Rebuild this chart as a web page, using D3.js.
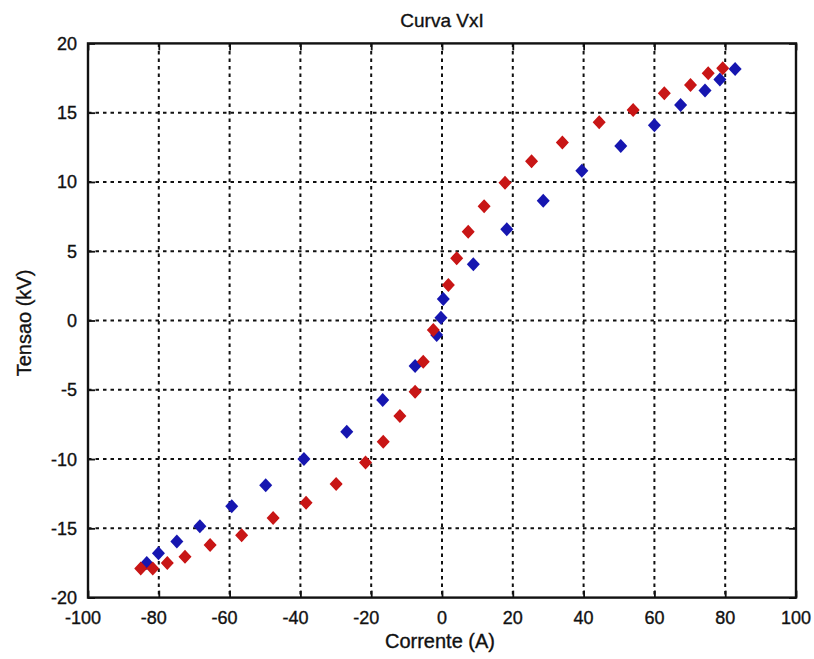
<!DOCTYPE html>
<html>
<head>
<meta charset="utf-8">
<script src="https://cdn.jsdelivr.net/npm/d3@7"></script>
<style>
  html, body { margin: 0; padding: 0; background: #fff; }
  svg { display: block; }
  text { font-family: Arial, "Liberation Sans", Helvetica, sans-serif; fill: #111; stroke: #111; stroke-width: 0.35px; }
</style>
</head>
<body>
<svg id="chart" width="814" height="659"></svg>
<script>
// Current (A) and voltage (kV) readings, two measurement runs
const currentRed = [-85.1, -81.7, -77.6, -72.6, -65.5, -56.6, -47.7, -38.4, -29.9, -21.6, -16.6, -11.9, -7.6, -5.3, -2.45, 1.8, 4.15, 7.4, 11.9, 17.8, 25.3, 34.0, 44.4, 54.0, 62.8, 70.2, 75.2, 79.3];
const voltageRed = [-17.9, -17.9, -17.5, -17.05, -16.2, -15.5, -14.25, -13.15, -11.8, -10.25, -8.75, -6.9, -5.14, -2.97, -0.69, 2.56, 4.49, 6.4, 8.25, 9.95, 11.5, 12.85, 14.3, 15.2, 16.4, 17.0, 17.85, 18.2];

const currentBlue = [-83.4, -80.1, -74.9, -68.4, -59.4, -49.8, -39.0, -26.9, -16.75, -7.6, -1.5, -0.3, 0.37, 8.85, 18.3, 28.6, 39.5, 50.5, 60.0, 67.4, 74.3, 78.5, 82.8];
const voltageBlue = [-17.5, -16.8, -15.95, -14.85, -13.4, -11.9, -10.0, -8.03, -5.74, -3.28, -1.05, 0.2, 1.55, 4.06, 6.58, 8.65, 10.8, 12.6, 14.1, 15.56, 16.6, 17.4, 18.16];

const xTicks = [-100, -80, -60, -40, -20, 0, 20, 40, 60, 80, 100];
const yTicks = [-20, -15, -10, -5, 0, 5, 10, 15, 20];

const titleText = "Curva VxI";
const xLabel = "Corrente (A)";
const yLabel = "Tensao (kV)";

const svg = d3.select("#chart");
const plotLeft = 88, plotRight = 796, plotTop = 43.4, plotBottom = 597.6;

const x = d3.scaleLinear().domain([-100, 100]).range([plotLeft, plotRight]);
const y = d3.scaleLinear().domain([-20, 20]).range([plotBottom, plotTop]);

// dotted grid
const grid = svg.append("g").attr("stroke", "#111").attr("stroke-width", 2)
  .attr("stroke-dasharray", "3.5,4");
grid.selectAll("line.v").data(xTicks.slice(1, -1)).join("line")
  .attr("x1", d => x(d)).attr("x2", d => x(d)).attr("y1", plotTop).attr("y2", plotBottom);
grid.selectAll("line.h").data(yTicks.slice(1, -1)).join("line")
  .attr("y1", d => y(d)).attr("y2", d => y(d)).attr("x1", plotLeft).attr("x2", plotRight);

// axes with inward ticks on all four sides
const tickLen = 7;
const axisStyle = g => {
  g.select(".domain").remove();
  g.selectAll(".tick line").attr("stroke", "#111").attr("stroke-width", 1.8);
};
svg.append("g").attr("transform", `translate(0,${plotBottom})`)
  .call(d3.axisBottom(x).tickValues(xTicks).tickSize(-tickLen).tickFormat(""))
  .call(axisStyle);
svg.append("g").attr("transform", `translate(0,${plotTop})`)
  .call(d3.axisTop(x).tickValues(xTicks).tickSize(-tickLen).tickFormat(""))
  .call(axisStyle);
svg.append("g").attr("transform", `translate(${plotLeft},0)`)
  .call(d3.axisLeft(y).tickValues(yTicks).tickSize(-tickLen).tickFormat(""))
  .call(axisStyle);
svg.append("g").attr("transform", `translate(${plotRight},0)`)
  .call(d3.axisRight(y).tickValues(yTicks).tickSize(-tickLen).tickFormat(""))
  .call(axisStyle);

// frame
svg.append("rect").attr("x", plotLeft).attr("y", plotTop)
  .attr("width", plotRight - plotLeft).attr("height", plotBottom - plotTop)
  .attr("fill", "none").attr("stroke", "#111").attr("stroke-width", 2.4);

// tick labels
svg.append("g").selectAll("text").data(xTicks).join("text")
  .attr("x", d => x(d) + (d < 0 ? -5 : 0)).attr("y", 624)
  .attr("text-anchor", "middle").attr("font-size", 18)
  .text(d => d);
svg.append("g").selectAll("text").data(yTicks).join("text")
  .attr("x", 77).attr("y", d => y(d)).attr("dy", "0.36em")
  .attr("text-anchor", "end").attr("font-size", 18)
  .text(d => d);

// titles
svg.append("text").attr("x", (plotLeft + plotRight) / 2).attr("y", 27)
  .attr("text-anchor", "middle").attr("font-size", 19).text(titleText);
svg.append("text").attr("x", 440).attr("y", 648)
  .attr("text-anchor", "middle").attr("font-size", 20).text(xLabel);
svg.append("text").attr("transform", "translate(31,323) rotate(-90)")
  .attr("text-anchor", "middle").attr("font-size", 20).text(yLabel);

// diamond markers
const diamond = (hw, hh) => `M0,${-hh}L${hw},0L0,${hh}L${-hw},0Z`;
const defs = svg.append("defs");
defs.append("filter").attr("id", "soft")
  .append("feGaussianBlur").attr("stdDeviation", 0.7);

function drawSeries(xs, ys, color) {
  svg.append("g").attr("filter", "url(#soft)")
    .selectAll("path").data(d3.zip(xs, ys)).join("path")
    .attr("transform", d => `translate(${x(d[0])},${y(d[1])})`)
    .attr("d", diamond(6.5, 7))
    .attr("fill", color);
}
drawSeries(currentBlue, voltageBlue, "#1414b0");
drawSeries(currentRed, voltageRed, "#c81212");
</script>
</body>
</html>
